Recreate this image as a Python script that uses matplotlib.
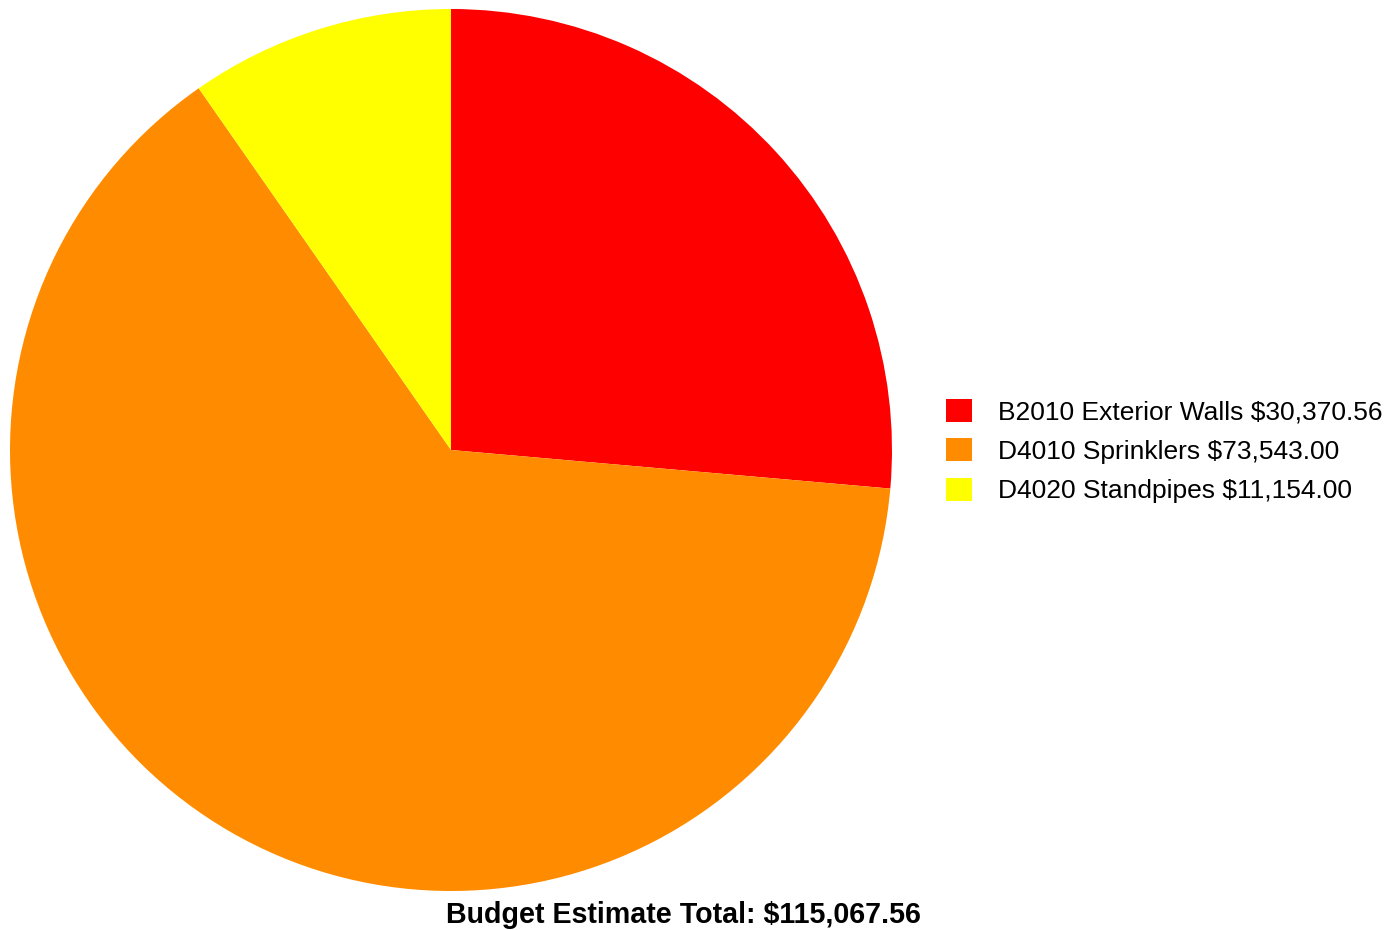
import matplotlib
matplotlib.use("Agg")
import matplotlib.pyplot as plt
from matplotlib.patches import Patch

plt.rcParams["font.family"] = ["Liberation Sans", "DejaVu Sans"]

categories = ["B2010 Exterior Walls", "D4010 Sprinklers", "D4020 Standpipes"]
values = [30370.56, 73543.00, 11154.00]
colors = ["#ff0000", "#ff8c00", "#ffff00"]
total = sum(values)

fig = plt.figure(figsize=(13.86, 9.30), dpi=100)
ax = fig.add_axes([10/1386, 39/930, 882/1386, 882/930])
ax.pie(values, colors=colors, startangle=90, counterclock=False, radius=1,
       wedgeprops=dict(linewidth=0))
ax.set_xlim(-1, 1)
ax.set_ylim(-1, 1)
ax.set_aspect("equal")
ax.axis("off")

labels = [f"{c} \\${v:,.2f}" for c, v in zip(categories, values)]
handles = [Patch(facecolor=col, edgecolor="none") for col in colors]
fig.legend(handles, labels, loc="center left", bbox_to_anchor=(946/1386, (930-451)/930),
           frameon=False, fontsize=19, handlelength=0.98, handleheight=0.98,
           handletextpad=0.98, labelspacing=0.52, borderaxespad=0, borderpad=0)

fig.text(683/1386, (930-915)/930, f"Budget Estimate Total: \\${total:,.2f}",
         ha="center", va="center", fontsize=20.6, fontweight="bold")

fig.savefig("out.png", dpi=100)
